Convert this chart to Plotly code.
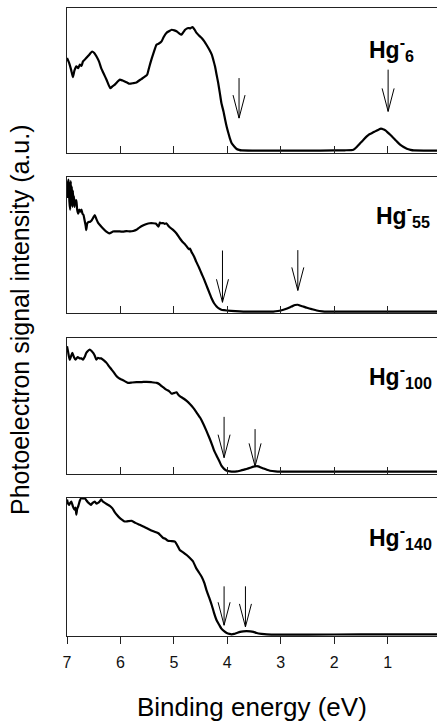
import plotly.graph_objects as go
from plotly.subplots import make_subplots

# ---------------- data (binding energy eV, normalised intensity) ----------------
hg6_x = [7.0, 6.97, 6.95, 6.92, 6.89, 6.86, 6.825, 6.79, 6.76, 6.73, 6.70, 6.64, 6.58, 6.53, 6.49, 6.45,
         6.40, 6.36, 6.31, 6.26, 6.19, 6.15, 6.11, 6.06, 6.01, 5.96, 5.92, 5.87, 5.83, 5.76, 5.70,
         5.65, 5.61, 5.55, 5.50, 5.47, 5.44, 5.38, 5.325, 5.28, 5.23, 5.19, 5.14, 5.09, 5.04,
         4.99, 4.95, 4.90, 4.86, 4.82, 4.79, 4.76, 4.73, 4.69, 4.65, 4.61, 4.575, 4.53, 4.48,
         4.43, 4.39, 4.34, 4.29, 4.26, 4.23, 4.20, 4.17, 4.14, 4.11, 4.07, 4.04, 4.01, 3.98,
         3.95, 3.92, 3.87, 3.83, 3.78, 3.73, 3.5, 3.0, 2.5, 2.0, 1.8, 1.64, 1.57, 1.51, 1.45,
         1.39, 1.34, 1.29, 1.24, 1.20, 1.16, 1.125, 1.08, 1.04, 1.00, 0.95, 0.90, 0.86, 0.81,
         0.76, 0.70, 0.64, 0.57, 0.51, 0.3, 0.075]
hg6_y = [0.655, 0.63, 0.61, 0.57, 0.524, 0.57, 0.598, 0.585, 0.61, 0.6, 0.632, 0.655, 0.68, 0.70, 0.69,
         0.667, 0.63, 0.586, 0.545, 0.506, 0.448, 0.46, 0.47, 0.49, 0.506, 0.50, 0.494, 0.485,
         0.478, 0.482, 0.487, 0.50, 0.51, 0.525, 0.54, 0.58, 0.62, 0.69, 0.747, 0.755, 0.77,
         0.80, 0.828, 0.84, 0.85, 0.846, 0.84, 0.825, 0.816, 0.835, 0.85, 0.858, 0.862, 0.86,
         0.869, 0.85, 0.828, 0.81, 0.793, 0.77, 0.747, 0.715, 0.678, 0.64, 0.598, 0.54, 0.483,
         0.415, 0.345, 0.285, 0.23, 0.18, 0.138, 0.10, 0.069, 0.045, 0.03, 0.022, 0.018, 0.017,
         0.017, 0.017, 0.018, 0.019, 0.023, 0.045, 0.069, 0.092, 0.115, 0.13, 0.138, 0.148,
         0.156, 0.163, 0.168, 0.164, 0.156, 0.143, 0.126, 0.108, 0.092, 0.074, 0.057, 0.042,
         0.03, 0.022, 0.018, 0.017, 0.017]

hg55_x = [7.0, 6.985, 6.97, 6.955, 6.94, 6.93, 6.92, 6.91, 6.90, 6.89, 6.88, 6.87, 6.86, 6.85,
          6.84, 6.825, 6.81, 6.79, 6.77, 6.75, 6.73, 6.71, 6.69, 6.67, 6.65, 6.64, 6.62, 6.59,
          6.57, 6.54, 6.51, 6.48, 6.45, 6.42, 6.38, 6.33, 6.27, 6.21, 6.17, 6.14, 6.08, 6.01,
          5.95, 5.89, 5.82, 5.76, 5.70, 5.64, 5.57, 5.51, 5.45, 5.39, 5.34, 5.31, 5.29, 5.27,
          5.26, 5.23, 5.20, 5.17, 5.14, 5.10, 5.06, 5.01, 4.95, 4.89, 4.84, 4.80, 4.76, 4.72,
          4.70, 4.67, 4.62, 4.58, 4.53, 4.48, 4.43, 4.39, 4.34, 4.29, 4.25, 4.20, 4.15, 4.11,
          4.06, 4.01, 3.85, 3.70, 3.4, 3.14, 3.05, 2.95, 2.88, 2.825, 2.78, 2.73, 2.68, 2.64,
          2.57, 2.51, 2.42, 2.325, 2.22, 2.14, 1.5, 1.0, 0.5, 0.075]
hg55_y = [0.845, 0.95, 0.98, 0.82, 0.76, 0.97, 0.80, 0.93, 0.78, 0.90, 0.80, 0.86, 0.78, 0.83,
          0.80, 0.83, 0.76, 0.73, 0.76, 0.745, 0.76, 0.73, 0.72, 0.68, 0.64, 0.61, 0.66, 0.67,
          0.67, 0.68, 0.70, 0.72, 0.69, 0.665, 0.645, 0.623, 0.60, 0.586, 0.592, 0.60, 0.60,
          0.60, 0.598, 0.603, 0.60, 0.603, 0.612, 0.63, 0.645, 0.655, 0.66, 0.66, 0.658, 0.645,
          0.635, 0.655, 0.665, 0.66, 0.662, 0.655, 0.66, 0.64, 0.625, 0.61, 0.585, 0.55, 0.525,
          0.51, 0.49, 0.47, 0.475, 0.45, 0.415, 0.377, 0.335, 0.29, 0.245, 0.204, 0.155, 0.106,
          0.075, 0.05, 0.033, 0.025, 0.022, 0.02, 0.015, 0.012, 0.012, 0.012, 0.016, 0.025,
          0.035, 0.044, 0.052, 0.06, 0.062, 0.056, 0.048, 0.04, 0.03, 0.02, 0.014, 0.012, 0.012,
          0.012, 0.012, 0.012]

hg100_x = [7.0, 6.98, 6.95, 6.92, 6.90, 6.87, 6.84, 6.80, 6.76, 6.73, 6.70, 6.67, 6.64, 6.61,
           6.575, 6.54, 6.51, 6.48, 6.45, 6.42, 6.39, 6.36, 6.31, 6.26, 6.22, 6.17, 6.12, 6.075,
           6.03, 5.98, 5.92, 5.86, 5.78, 5.70, 5.60, 5.51, 5.42, 5.32, 5.27, 5.23, 5.19, 5.14,
           5.09, 5.04, 5.00, 4.95, 4.92, 4.89, 4.82, 4.76, 4.70, 4.64, 4.58, 4.51, 4.45, 4.39,
           4.34, 4.29, 4.25, 4.20, 4.15, 4.11, 4.06, 4.01, 3.95, 3.89, 3.82, 3.76, 3.70, 3.64,
           3.57, 3.51, 3.46, 3.42, 3.37, 3.325, 3.26, 3.20, 3.10, 3.01, 2.0, 1.0, 0.075]
hg100_y = [0.94, 0.90, 0.84, 0.87, 0.89, 0.86, 0.84, 0.86, 0.85, 0.85, 0.84, 0.86, 0.89, 0.905,
           0.915, 0.905, 0.89, 0.87, 0.84, 0.855, 0.85, 0.85, 0.835, 0.817, 0.795, 0.77, 0.745,
           0.72, 0.705, 0.695, 0.683, 0.67, 0.673, 0.675, 0.676, 0.678, 0.675, 0.67, 0.66, 0.646,
           0.635, 0.62, 0.61, 0.59, 0.595, 0.60, 0.585, 0.573, 0.555, 0.537, 0.515, 0.488, 0.455,
           0.415, 0.37, 0.317, 0.27, 0.22, 0.175, 0.134, 0.095, 0.061, 0.038, 0.024, 0.019,
           0.017, 0.019, 0.024, 0.03, 0.037, 0.046, 0.054, 0.057, 0.056, 0.048, 0.041, 0.031,
           0.024, 0.019, 0.017, 0.017, 0.017, 0.017]

hg140_x = [7.0, 6.98, 6.96, 6.94, 6.92, 6.89, 6.86, 6.84, 6.825, 6.81, 6.79, 6.76, 6.73, 6.70,
           6.67, 6.64, 6.61, 6.58, 6.55, 6.52, 6.48, 6.45, 6.42, 6.39, 6.36, 6.33, 6.29, 6.25,
           6.20, 6.15, 6.11, 6.06, 6.01, 5.96, 5.92, 5.86, 5.79, 5.72, 5.64, 5.55, 5.45, 5.37,
           5.29, 5.25, 5.20, 5.16, 5.11, 5.05, 4.98, 4.94, 4.89, 4.82, 4.76, 4.70, 4.64, 4.58,
           4.53, 4.48, 4.43, 4.39, 4.34, 4.29, 4.25, 4.20, 4.15, 4.11, 4.06, 4.01, 3.96, 3.92,
           3.87, 3.82, 3.76, 3.70, 3.64, 3.57, 3.51, 3.45, 3.36, 3.26, 3.01, 2.0, 1.0, 0.075]
hg140_y = [0.99, 0.96, 0.95, 0.965, 0.975, 0.94, 0.915, 0.93, 0.88, 0.92, 0.94, 0.98, 1.0, 0.995,
           1.0, 0.985, 0.97, 0.96, 0.95, 0.965, 0.975, 0.96, 0.965, 0.975, 0.99, 0.975, 0.965,
           0.955, 0.944, 0.925, 0.90, 0.875, 0.854, 0.84, 0.83, 0.832, 0.835, 0.82, 0.806, 0.79,
           0.77, 0.757, 0.745, 0.73, 0.71, 0.705, 0.69, 0.688, 0.684, 0.66, 0.624, 0.605, 0.587,
           0.565, 0.54, 0.49, 0.46, 0.43, 0.385, 0.333, 0.28, 0.223, 0.17, 0.114, 0.08, 0.053,
           0.035, 0.022, 0.015, 0.012, 0.015, 0.022, 0.03, 0.034, 0.035, 0.034, 0.03, 0.022,
           0.016, 0.012, 0.01, 0.011, 0.012, 0.012]

panel_x = [hg6_x, hg55_x, hg100_x, hg140_x]
panel_y = [hg6_y, hg55_y, hg100_y, hg140_y]
panel_sub = ["6", "55", "100", "140"]

# arrows: energy, shaft top, tip (normalised intensity)
arrow_x = [[3.78, 0.99], [4.09, 2.68], [4.06, 3.48], [4.06, 3.66]]
arrow_top = [[0.517, 0.575], [0.46, 0.463], [0.42, 0.33], [0.36, 0.36]]
arrow_tip = [[0.241, 0.287], [0.08, 0.167], [0.12, 0.056], [0.078, 0.066]]

x_ticks = [7, 6, 5, 4, 3, 2, 1]
x_range = [7.0, 0.075]

# ---------------- figure ----------------
W, H = 437, 726
domains = [[0.769, 1.0], [0.514, 0.731], [0.258, 0.4745], [0.0, 0.2197]]
panel_px = [145, 136, 136, 138]
px_per_ev = 370 / (x_range[0] - x_range[1])

fig = make_subplots(rows=4, cols=1, shared_xaxes=False, vertical_spacing=0.02)
FONT = "Arial, Liberation Sans, Helvetica, sans-serif"

for i in range(4):
    r = i + 1
    fig.add_trace(go.Scatter(x=panel_x[i], y=panel_y[i], mode="lines",
                             line=dict(color="black", width=2.2, shape="spline", smoothing=0.5),
                             showlegend=False, hoverinfo="skip"), row=r, col=1)
    # arrows (shaft + open V head)
    hw = 6 / px_per_ev
    hl = 23 / panel_px[i]
    for ax_, at, tip in zip(arrow_x[i], arrow_top[i], arrow_tip[i]):
        fig.add_trace(go.Scatter(x=[ax_, ax_, None, ax_ + hw, ax_, ax_ - hw],
                                 y=[at, tip, None, tip + hl, tip, tip + hl],
                                 mode="lines", line=dict(color="black", width=1),
                                 showlegend=False, hoverinfo="skip"), row=r, col=1)
    last = (i == 3)
    fig.update_xaxes(row=r, col=1, range=x_range, domain=[0, 1],
                     showline=True, linecolor="#222", linewidth=1, mirror=True,
                     showgrid=False, zeroline=False,
                     tickmode="array", tickvals=x_ticks,
                     ticktext=[str(t) for t in x_ticks] if last else None,
                     showticklabels=last, ticks="outside" if last else "inside",
                     ticklen=7, tickwidth=1, tickcolor="#222",
                     ticklabelstandoff=5,
                     tickfont=dict(family=FONT, size=16, color="#111"))
    fig.update_yaxes(row=r, col=1, range=[0, 1], domain=domains[i],
                     showline=True, linecolor="#222", linewidth=1,
                     showgrid=False, zeroline=False, showticklabels=False, ticks="")
    xref = "x domain" if r == 1 else f"x{r} domain"
    yref = "y domain" if r == 1 else f"y{r} domain"
    fig.add_annotation(xref=xref, yref=yref, x=0.812 if r != 2 else 0.83, y=0.72,
                       xanchor="left", yanchor="middle", showarrow=False,
                       text=f"<b>Hg<sup>-</sup><sub>{panel_sub[i]}</sub></b>",
                       font=dict(family=FONT, size=23, color="black"))

fig.add_annotation(xref="paper", yref="paper", x=-47 / 370, y=(636 - 320) / 628,
                   xanchor="center", yanchor="middle", showarrow=False, textangle=-90,
                   text="Photoelectron signal intensity (a.u.)",
                   font=dict(family=FONT, size=25, color="black"))
fig.add_annotation(xref="paper", yref="paper", x=0.5, y=(636 - 707) / 628,
                   xanchor="center", yanchor="middle", showarrow=False,
                   text="Binding energy (eV)",
                   font=dict(family=FONT, size=26, color="black"))

fig.update_layout(width=W, height=H, margin=dict(l=67, r=0, t=8, b=90),
                  paper_bgcolor="white", plot_bgcolor="white")
fig.write_html("out.html")
